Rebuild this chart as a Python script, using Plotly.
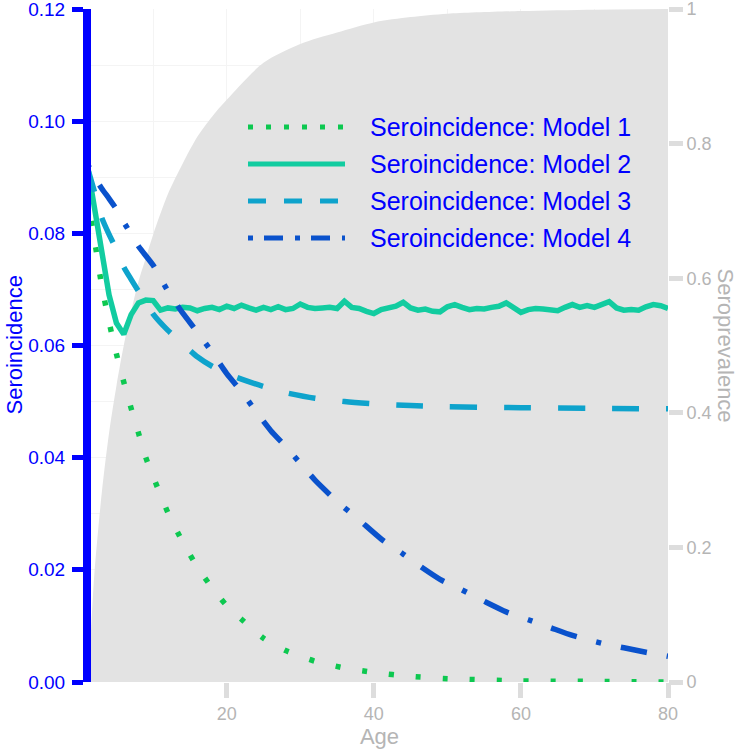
import plotly.graph_objects as go

# ---------------- data ----------------
prev_age = [1, 1.5, 2, 3, 4, 5, 6, 7, 8, 9, 10, 12, 14, 16, 18, 20, 25, 30, 35, 40, 45, 50, 60, 70, 80]
prev_val = [0.0, 0.07, 0.16, 0.28, 0.37, 0.44, 0.50, 0.55, 0.595, 0.63, 0.665, 0.725, 0.77, 0.81, 0.84,
            0.865, 0.92, 0.948, 0.965, 0.98, 0.988, 0.993, 0.997, 0.999, 1.0]

m1_age = [1, 2, 3, 4, 5, 6, 7, 8, 9, 10, 12, 14, 16, 18, 20, 22, 25, 28, 32, 36, 40, 45, 50, 60, 70, 80]
m1_val = [0.087, 0.079, 0.0707, 0.0642, 0.0585, 0.0535, 0.0488, 0.0444, 0.0400, 0.0366, 0.0302, 0.0250,
          0.0205, 0.0168, 0.0136, 0.0112, 0.0078, 0.0056, 0.0037, 0.0025, 0.0017, 0.0010, 0.0006,
          0.0002, 0.0001, 0.0]

m2_age = list(range(1, 81))
m2_val = [0.0925, 0.0845, 0.0765, 0.0690, 0.0640, 0.0620, 0.0655, 0.0676, 0.0681, 0.0680,
          0.0663, 0.0667, 0.0665, 0.0668, 0.0667, 0.0662, 0.0666, 0.0668, 0.0664, 0.0670,
          0.0666, 0.0672, 0.0667, 0.0663, 0.0668, 0.0664, 0.0669, 0.0664, 0.0666, 0.0674,
          0.0668, 0.0666, 0.0667, 0.0668, 0.0666, 0.0679, 0.0668, 0.0666, 0.0661, 0.0657,
          0.0664, 0.0666, 0.0670, 0.0677, 0.0667, 0.0663, 0.0665, 0.0661, 0.0660, 0.0669,
          0.0673, 0.0668, 0.0664, 0.0666, 0.0665, 0.0668, 0.0670, 0.0676, 0.0668, 0.0659,
          0.0664, 0.0666, 0.0665, 0.0664, 0.0662, 0.0668, 0.0673, 0.0668, 0.0671, 0.0668,
          0.0673, 0.0678, 0.0667, 0.0663, 0.0664, 0.0663, 0.0669, 0.0673, 0.0671, 0.0666]

m3_age = [1, 2, 3, 4, 5, 6, 7, 8, 9, 10, 12, 14, 16, 18, 20, 22, 25, 28, 32, 36, 40, 45, 50, 60, 70, 80]
m3_val = [0.092, 0.0875, 0.0828, 0.0798, 0.0771, 0.0740, 0.0718, 0.0697, 0.0678, 0.0656, 0.0627,
          0.0603, 0.0580, 0.0563, 0.0550, 0.0540, 0.0527, 0.0516, 0.0506, 0.0500, 0.0496, 0.0493,
          0.0491, 0.0489, 0.0488, 0.0487]

m4_age = [1, 2, 3, 4, 5, 6, 8, 10, 12, 14, 16, 18, 20, 22, 24, 26, 28, 30, 32, 35, 38, 41, 44, 46,
          49, 52, 55, 58, 61, 64, 67, 71, 74, 77, 80]
m4_val = [0.0925, 0.0901, 0.0880, 0.0862, 0.0843, 0.0820, 0.0777, 0.0743, 0.0697, 0.0658, 0.0624,
          0.0588, 0.0550, 0.0518, 0.0482, 0.0448, 0.0420, 0.0390, 0.0360, 0.0322, 0.0289, 0.0255,
          0.0228, 0.0209, 0.0183, 0.0164, 0.0144, 0.0125, 0.0111, 0.0097, 0.0083, 0.0069, 0.0061,
          0.0053, 0.0046]

series_names = ["Seroincidence: Model 1", "Seroincidence: Model 2",
                "Seroincidence: Model 3", "Seroincidence: Model 4"]

left_ticks = [0, 0.02, 0.04, 0.06, 0.08, 0.10, 0.12]
right_ticks = [0, 0.2, 0.4, 0.6, 0.8, 1]
x_ticks = [20, 40, 60, 80]

# ---------------- styles ----------------
FONT = "Liberation Sans, Arial, sans-serif"
BLUE = "#0000FF"
GRAY_TXT = "#b5b5b5"
GRAY_TICK = "#dddddd"
colors = ["#0DC850", "#12CCA0", "#0EA3CC", "#0A52CC"]
plot_dash = ["5px,22px", "solid", "27px,27px", "5px,20px,27px,20px"]
leg_dash = ["5px,13px", "solid", "18px,18px", "5px,11px,19px,12px"]
LW = 5.5

fig = go.Figure()

# seroprevalence area on the primary (right-hand) axis, drawn underneath
fig.add_trace(go.Scatter(x=prev_age, y=prev_val, yaxis="y", mode="lines",
                         line=dict(width=0, shape="spline", smoothing=0.8, color="#e3e3e3"),
                         fill="tozeroy", fillcolor="#e3e3e3", hoverinfo="skip",
                         name="Seroprevalence", showlegend=False))

for name, xs, ys, c, d, sh in zip(series_names,
                                  [m1_age, m2_age, m3_age, m4_age],
                                  [m1_val, m2_val, m3_val, m4_val],
                                  colors, plot_dash,
                                  ["spline", "linear", "spline", "spline"]):
    fig.add_trace(go.Scatter(x=xs, y=ys, yaxis="y2", mode="lines", name=name, showlegend=False,
                             line=dict(color=c, width=LW, dash=d, shape=sh, smoothing=0.6)))

# plot-area geometry (px)
L, R, T, B = 91, 71, 9, 67
W, H = 739, 749
PW, PH = W - L - R, H - T - B
X0 = 1 + 4 / 7.355  # keeps age 1 under the axis line

def px_x(px):
    return (px - L) / PW

def px_y(py):
    return (H - B - py) / PH

shapes = []
annotations = []
rows = [127, 164, 201, 238]
for name, c, d, ry in zip(series_names, colors, leg_dash, rows):
    shapes.append(dict(type="line", xref="paper", yref="paper",
                       x0=px_x(248), x1=px_x(345), y0=px_y(ry), y1=px_y(ry),
                       line=dict(color=c, width=5, dash=d)))
    annotations.append(dict(text=name, xref="paper", yref="paper", x=px_x(368), y=px_y(ry),
                            xanchor="left", yanchor="middle", showarrow=False,
                            font=dict(family=FONT, size=25, color=BLUE)))

annotations.append(dict(text="Seroincidence", xref="paper", yref="paper", x=0, y=0.5,
                        xshift=-(L - 14), xanchor="center", yanchor="middle", textangle=-90,
                        showarrow=False, font=dict(family=FONT, size=22, color=BLUE)))
annotations.append(dict(text="Seroprevalence", xref="paper", yref="paper", x=1, y=0.5,
                        xshift=725 - (W - R), xanchor="center", yanchor="middle", textangle=90,
                        showarrow=False, font=dict(family=FONT, size=22, color=GRAY_TXT)))

fig.update_layout(
    width=W, height=H,
    margin=dict(l=L, r=R, t=T, b=B, pad=0, autoexpand=False),
    paper_bgcolor="white", plot_bgcolor="white",
    font=dict(family=FONT),
    showlegend=False,
    shapes=shapes,
    annotations=annotations,
    xaxis=dict(range=[X0, 80], tickvals=x_ticks, ticks="outside", ticklen=15, tickwidth=5,
               tickcolor=GRAY_TICK, tickfont=dict(size=18, color=GRAY_TXT),
               showline=False, zeroline=False, ticklabeloverflow="allow", automargin=False,
               showgrid=True, gridcolor="#f4f4f4", gridwidth=1,
               minor=dict(tickvals=[10, 30, 50, 70], showgrid=True, gridcolor="#f4f4f4", ticks=""),
               title=dict(text="Age", font=dict(size=22, color=GRAY_TXT), standoff=4)),
    yaxis=dict(range=[0, 1], tickvals=right_ticks, side="right", automargin=False,
               ticks="outside", ticklen=14, tickwidth=5, tickcolor=GRAY_TICK,
               tickfont=dict(size=18, color=GRAY_TXT), showgrid=False, zeroline=False,
               showline=False, ticklabeloverflow="allow"),
    yaxis2=dict(range=[0, 0.12], tickvals=left_ticks, tickformat=".2f", ticks="outside",
                overlaying="y", side="left", ticklabeloverflow="allow", ticklabelstandoff=3,
                automargin=False,
                ticklen=11, tickwidth=5, tickcolor=BLUE,
                tickfont=dict(size=19, color=BLUE),
                showline=True, linecolor=BLUE, linewidth=8, zeroline=False,
                showgrid=True, gridcolor="#f4f4f4", gridwidth=1,
                minor=dict(tickvals=[0.01, 0.03, 0.05, 0.07, 0.09, 0.11], showgrid=True,
                           gridcolor="#f4f4f4", ticks="")),
)

fig.write_html("out.html", config={"displayModeBar": False},
               post_script="document.body.style.margin='0';")
